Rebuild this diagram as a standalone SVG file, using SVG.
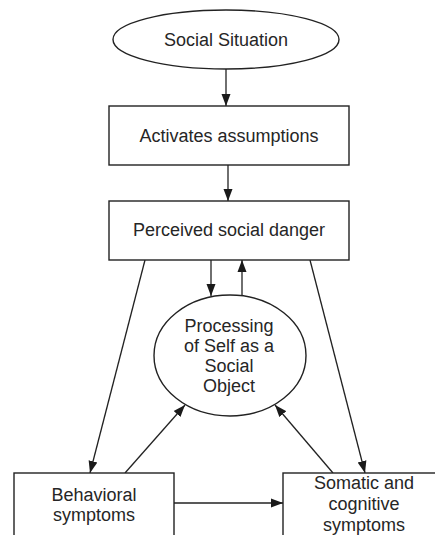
<svg xmlns="http://www.w3.org/2000/svg" width="435" height="535" viewBox="0 0 435 535">
  <defs>
    <style>
      .shape { fill: #ffffff; stroke: #222222; stroke-width: 1.4; }
      .link { fill: none; stroke: #222222; stroke-width: 1.3; }
      .label { font-family: "Liberation Sans", Arial, sans-serif; font-size: 18px; fill: #262626; text-anchor: middle; }
    </style>
    <marker id="arrow" viewBox="0 0 12 10" refX="12" refY="5" markerWidth="12" markerHeight="10" markerUnits="userSpaceOnUse" orient="auto">
      <path d="M0,0.5 L12,5 L0,9.5 Z" fill="#1a1a1a"/>
    </marker>
  </defs>
  <rect width="435" height="535" fill="#ffffff"/>

  <!-- connectors -->
  <g id="connectors">
    <line class="link" x1="226" y1="69" x2="226" y2="106" marker-end="url(#arrow)"/>
    <line class="link" x1="228" y1="165" x2="228" y2="201" marker-end="url(#arrow)"/>
    <line class="link" x1="211" y1="260" x2="211" y2="296" marker-end="url(#arrow)"/>
    <line class="link" x1="242" y1="295" x2="242" y2="260" marker-end="url(#arrow)"/>
    <line class="link" x1="145" y1="260" x2="90" y2="473" marker-end="url(#arrow)"/>
    <line class="link" x1="310" y1="260" x2="365" y2="473" marker-end="url(#arrow)"/>
    <line class="link" x1="125" y1="473" x2="185" y2="405" marker-end="url(#arrow)"/>
    <line class="link" x1="333" y1="473" x2="275" y2="405" marker-end="url(#arrow)"/>
    <line class="link" x1="174" y1="503" x2="283" y2="503" marker-end="url(#arrow)"/>
  </g>

  <g id="social-situation">
    <ellipse class="shape" cx="226" cy="39.5" rx="113" ry="29.5"/>
    <text class="label" x="226" y="45.5">Social Situation</text>
  </g>

  <g id="activates-assumptions">
    <rect class="shape" x="109" y="106" width="240" height="59"/>
    <text class="label" x="229" y="142">Activates assumptions</text>
  </g>

  <g id="perceived-social-danger">
    <rect class="shape" x="109" y="201" width="240" height="59"/>
    <text class="label" x="229" y="236">Perceived social danger</text>
  </g>

  <g id="processing-of-self">
    <ellipse class="shape" cx="230" cy="355.5" rx="76" ry="60.5"/>
    <text class="label" x="229" y="332">Processing</text>
    <text class="label" x="229" y="352">of Self as a</text>
    <text class="label" x="229" y="372">Social</text>
    <text class="label" x="229" y="392">Object</text>
  </g>

  <g id="behavioral-symptoms">
    <rect class="shape" x="14" y="473" width="160" height="80"/>
    <text class="label" x="94" y="501">Behavioral</text>
    <text class="label" x="94" y="521">symptoms</text>
  </g>

  <g id="somatic-cognitive-symptoms">
    <rect class="shape" x="283" y="473" width="165" height="80"/>
    <text class="label" x="364" y="489">Somatic and</text>
    <text class="label" x="364" y="510">cognitive</text>
    <text class="label" x="364" y="531">symptoms</text>
  </g>
</svg>
